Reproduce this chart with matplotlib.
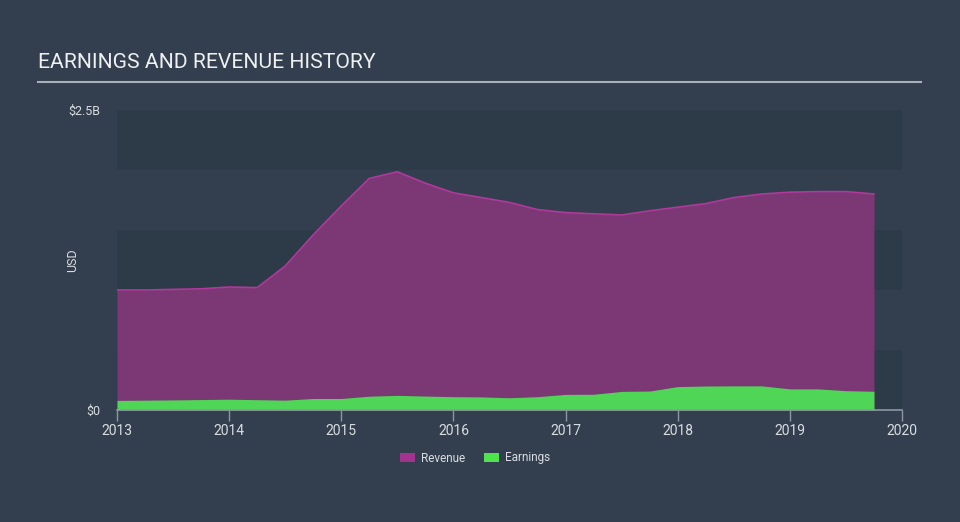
import matplotlib
matplotlib.use("Agg")
import matplotlib.pyplot as plt
from matplotlib.patches import Patch

plt.rcParams['font.family'] = ['Roboto', 'DejaVu Sans']

quarters = [2013.00, 2013.25, 2013.50, 2013.75, 2014.00, 2014.25, 2014.50, 2014.75,
            2015.00, 2015.25, 2015.50, 2015.75, 2016.00, 2016.25, 2016.50, 2016.75,
            2017.00, 2017.25, 2017.50, 2017.75, 2018.00, 2018.25, 2018.50, 2018.75,
            2019.00, 2019.25, 2019.50, 2019.75]
revenue = [1.00, 1.00, 1.005, 1.01, 1.025, 1.02, 1.20, 1.46,
           1.70, 1.93, 1.985, 1.89, 1.81, 1.77, 1.73, 1.67,
           1.645, 1.635, 1.625, 1.66, 1.69, 1.72, 1.77, 1.80,
           1.815, 1.82, 1.82, 1.80]
earnings = [0.080, 0.082, 0.084, 0.087, 0.090, 0.086, 0.082, 0.096,
            0.096, 0.115, 0.122, 0.116, 0.111, 0.109, 0.102, 0.111,
            0.130, 0.131, 0.155, 0.158, 0.195, 0.200, 0.201, 0.201,
            0.176, 0.176, 0.161, 0.156]
year_ticks = [2013, 2014, 2015, 2016, 2017, 2018, 2019, 2020]
y_ticks = [0, 2.5]
y_labels = ['$0', '$2.5B']

BG = '#333f4e'
BAND = '#2d3a48'
REV_FILL = '#7b3875'
REV_LINE = '#b0399c'
EARN = '#50d656'
TEXT = '#d8dde2'
AXIS = '#8c97a3'

fig = plt.figure(figsize=(9.6, 5.22), dpi=100, facecolor=BG)
ax = fig.add_axes([117/960, 112/522, 785/960, 300/522])
ax.set_facecolor(BG)
ax.set_xlim(2013, 2020)
ax.set_ylim(0, 2.5)

for lo in [0.0, 1.0, 2.0]:
    ax.axhspan(lo, lo + 0.5, color=BAND, zorder=0, lw=0)

ax.fill_between(quarters, 0, revenue, color=REV_FILL, lw=0, zorder=2)
ax.plot(quarters, revenue, color=REV_LINE, lw=1.2, zorder=3)
ax.fill_between(quarters, 0, earnings, color=EARN, lw=0, zorder=4)

for s in ['top', 'right', 'left']:
    ax.spines[s].set_visible(False)
ax.spines['bottom'].set_color(AXIS)
ax.spines['bottom'].set_linewidth(1.2)
ax.spines['bottom'].set_zorder(5)

ax.set_xticks(year_ticks)
ax.set_xticklabels([str(y) for y in year_ticks])
ax.tick_params(axis='x', colors=AXIS, length=8, width=1, labelcolor=TEXT, labelsize=10, pad=2)
ax.set_yticks(y_ticks)
ax.set_yticklabels(y_labels)
ax.tick_params(axis='y', length=0, labelcolor=TEXT, labelsize=9, pad=12)
ax.set_ylabel('USD', color=TEXT, fontsize=9)
ax.yaxis.set_label_coords(-38/785, 0.5)

fig.text(38/960, 1 - 68/522, 'EARNINGS AND REVENUE HISTORY', color='#eef0f2',
         fontsize=15.2, ha='left', va='baseline')
fig.add_artist(plt.Line2D([38/960, 921/960], [1 - 82/522, 1 - 82/522],
                          color='#a7afb8', lw=1.5))

handles = [Patch(facecolor='#a4338f', edgecolor='none', label='Revenue'),
           Patch(facecolor='#4ee44e', edgecolor='none', label='Earnings')]
fig.legend(handles=handles, loc='center', bbox_to_anchor=(475/960, 1 - 458/522),
           ncol=2, frameon=False, fontsize=8.5, labelcolor=TEXT,
           handlelength=1.3, handleheight=0.9, handletextpad=0.5, columnspacing=1.6)

fig.savefig('out.png', dpi=100, facecolor=BG)
